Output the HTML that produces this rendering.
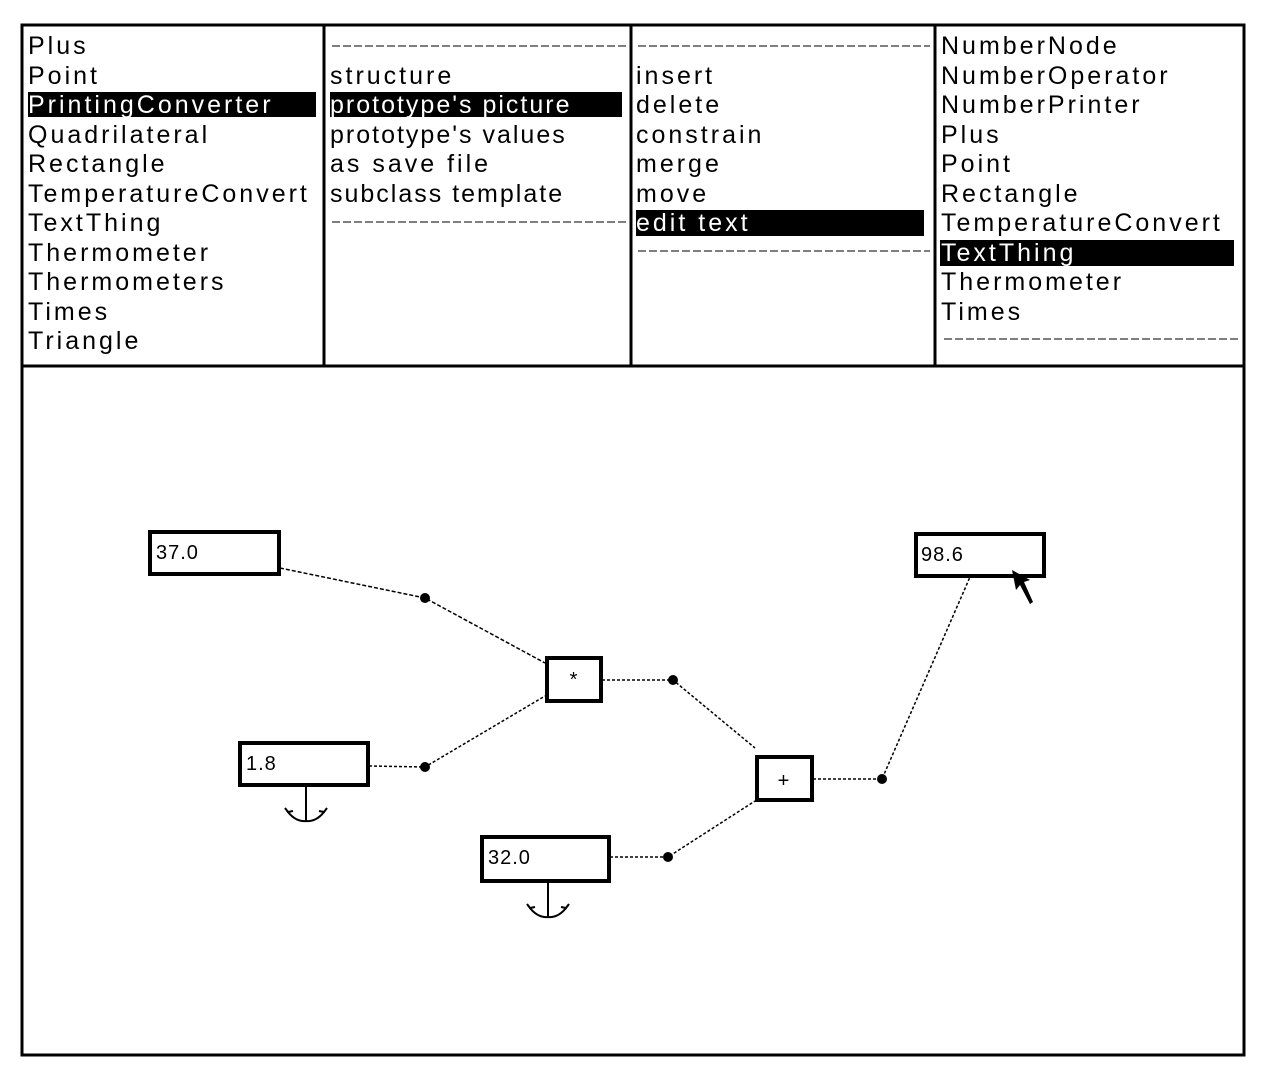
<!DOCTYPE html>
<html><head><style>
html,body{margin:0;padding:0;background:#fff;}
svg{display:block;}
text{font-family:"Liberation Sans",sans-serif;font-size:25px;letter-spacing:3px;fill:#000;}
.w{fill:#fff;}
.n{font-size:20px;letter-spacing:1px;}
</style></head><body>
<svg width="1266" height="1071" viewBox="0 0 1266 1071">
<defs>
<clipPath id="c1"><rect x="24" y="26" width="299" height="339"/></clipPath>
<clipPath id="c2"><rect x="326" y="26" width="304" height="339"/></clipPath>
<clipPath id="c3"><rect x="633" y="26" width="301" height="339"/></clipPath>
<clipPath id="c4"><rect x="937" y="26" width="306" height="339"/></clipPath>
</defs>
<rect x="0" y="0" width="1266" height="1071" fill="#fff"/>
<rect x="22" y="25" width="1222" height="1030" fill="none" stroke="#000" stroke-width="3"/>
<line x1="22" y1="366" x2="1244" y2="366" stroke="#000" stroke-width="3"/>
<line x1="324" y1="25" x2="324" y2="366" stroke="#000" stroke-width="3"/>
<line x1="631" y1="25" x2="631" y2="366" stroke="#000" stroke-width="3"/>
<line x1="935" y1="25" x2="935" y2="366" stroke="#000" stroke-width="3"/>
<g clip-path="url(#c1)">
<rect x="28" y="92" width="288" height="25" fill="#000"/>
<text x="28" y="54">Plus</text>
<text x="28" y="84">Point</text>
<text x="28" y="113" class="w">PrintingConverter</text>
<text x="28" y="143">Quadrilateral</text>
<text x="28" y="172">Rectangle</text>
<text x="28" y="202">TemperatureConvert</text>
<text x="28" y="231">TextThing</text>
<text x="28" y="261">Thermometer</text>
<text x="28" y="290">Thermometers</text>
<text x="28" y="320">Times</text>
<text x="28" y="349">Triangle</text>
</g>
<g clip-path="url(#c2)">
<line x1="332" y1="46" x2="626" y2="46" stroke="#555" stroke-width="1.5" stroke-dasharray="8,3"/>
<line x1="332" y1="222" x2="626" y2="222" stroke="#555" stroke-width="1.5" stroke-dasharray="8,3"/>
<rect x="330" y="92" width="292" height="25" fill="#000"/>
<text x="330" y="84">structure</text>
<text x="330" y="113" class="w" style="letter-spacing:2px">prototype's picture</text>
<text x="330" y="143" style="letter-spacing:2px">prototype's values</text>
<text x="330" y="172">as save file</text>
<text x="330" y="202" style="letter-spacing:2px">subclass template</text>
</g>
<g clip-path="url(#c3)">
<line x1="638" y1="46" x2="930" y2="46" stroke="#555" stroke-width="1.5" stroke-dasharray="8,3"/>
<line x1="638" y1="251" x2="930" y2="251" stroke="#555" stroke-width="1.5" stroke-dasharray="8,3"/>
<rect x="636" y="210" width="288" height="26" fill="#000"/>
<text x="636" y="84">insert</text>
<text x="636" y="113">delete</text>
<text x="636" y="143">constrain</text>
<text x="636" y="172">merge</text>
<text x="636" y="202">move</text>
<text x="636" y="231" class="w">edit text</text>
</g>
<g clip-path="url(#c4)">
<line x1="944" y1="339" x2="1240" y2="339" stroke="#555" stroke-width="1.5" stroke-dasharray="8,3"/>
<rect x="940" y="240" width="294" height="26" fill="#000"/>
<text x="941" y="54">NumberNode</text>
<text x="941" y="84">NumberOperator</text>
<text x="941" y="113">NumberPrinter</text>
<text x="941" y="143">Plus</text>
<text x="941" y="172">Point</text>
<text x="941" y="202">Rectangle</text>
<text x="941" y="231">TemperatureConvert</text>
<text x="941" y="261" class="w">TextThing</text>
<text x="941" y="290">Thermometer</text>
<text x="941" y="320">Times</text>
</g>
<g stroke="#000" stroke-width="1.5" fill="none">
<polyline points="280,568 425,598 545,663" stroke-dasharray="4,2"/>
<polyline points="369,766 425,767 545,696" stroke-dasharray="3,2"/>
<polyline points="602,680 673,680 755,748" stroke-dasharray="3,2"/>
<polyline points="610,857 668,857 755,801" stroke-dasharray="3,2"/>
<polyline points="813,779 882,779 970,577" stroke-dasharray="3,2"/>
</g>
<g fill="#000">
<circle cx="425" cy="598" r="5"/>
<circle cx="425" cy="767" r="5"/>
<circle cx="673" cy="680" r="5"/>
<circle cx="668" cy="857" r="5"/>
<circle cx="882" cy="779" r="5"/>
</g>
<g fill="#fff" stroke="#000" stroke-width="4">
<rect x="150" y="532" width="129" height="42"/>
<rect x="240" y="743" width="128" height="42"/>
<rect x="482" y="837" width="127" height="44"/>
<rect x="547" y="658" width="54" height="43"/>
<rect x="757" y="757" width="55" height="43"/>
<rect x="916" y="534" width="128" height="42"/>
</g>
<text x="156" y="559" class="n">37.0</text>
<text x="246" y="770" class="n">1.8</text>
<text x="488" y="864" class="n">32.0</text>
<text x="921" y="561" class="n">98.6</text>
<text x="574" y="686" class="n" text-anchor="middle">*</text>
<text x="784" y="787" class="n" text-anchor="middle">+</text>
<g stroke="#000" stroke-width="2" fill="none">
<line x1="306" y1="786" x2="306" y2="821"/>
<path d="M288 812 Q296 822 306 821 Q316 822 324 812"/>
<path d="M285 808 L288 812 L293 811"/>
<path d="M327 808 L324 812 L319 811"/>
<line x1="548" y1="882" x2="548" y2="917"/>
<path d="M530 908 Q538 918 548 917 Q558 918 566 908"/>
<path d="M527 904 L530 908 L535 907"/>
<path d="M569 904 L566 908 L561 907"/>
</g>
<path d="M1012 570 L1016 590 L1020 585 L1030 604 L1033 602 L1024 582 L1030 580 Z" fill="#000"/>
</svg>
</body></html>
